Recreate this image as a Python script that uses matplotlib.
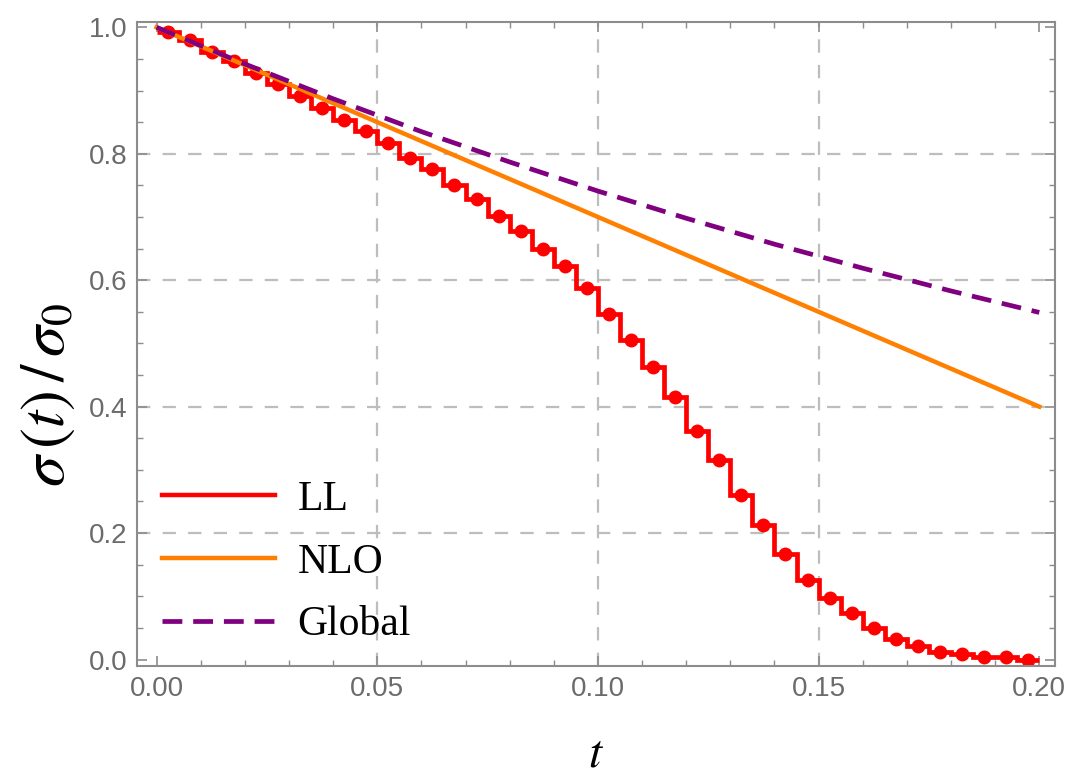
import numpy as np
import matplotlib
matplotlib.use("Agg")
import matplotlib.pyplot as plt
from matplotlib.ticker import MultipleLocator, FormatStrFormatter

# ── data ─────────────────────────────────────────────────────
# LL: histogram in 40 bins of width 0.005 on t = [0, 0.2]
BIN_WIDTH = 0.005
ll_values = [
    0.993, 0.980, 0.961, 0.947, 0.928, 0.910, 0.891, 0.873, 0.854, 0.836,
    0.817, 0.794, 0.776, 0.751, 0.729, 0.702, 0.678, 0.649, 0.622, 0.588,
    0.547, 0.506, 0.463, 0.415, 0.362, 0.316, 0.260, 0.213, 0.167, 0.126,
    0.097, 0.073, 0.050, 0.032, 0.022, 0.012, 0.009, 0.004, 0.004, 0.000,
]

# NLO: straight line
nlo_t = [0.0, 0.05, 0.10, 0.15, 0.20]
nlo_values = [1.0, 0.85, 0.70, 0.55, 0.40]

# Global: dashed, slightly curved
global_t = [0.0, 0.02, 0.04, 0.06, 0.08, 0.10, 0.12, 0.14, 0.16, 0.18, 0.20]
global_values = [1.0, 0.942, 0.887, 0.835, 0.787, 0.741, 0.698, 0.657, 0.619, 0.583, 0.549]

x_ticks = [0.0, 0.05, 0.10, 0.15, 0.20]
y_ticks = [0.0, 0.2, 0.4, 0.6, 0.8, 1.0]

# ── colours / style ──────────────────────────────────────────
RED = "#ff0000"
ORANGE = "#ff8000"
PURPLE = "#800080"
GRID = "#bdbdbd"
FRAME = "#8c8c8c"
TICK_TEXT = "#6b6b6b"

plt.rcParams["font.family"] = ["Liberation Sans Narrow", "Liberation Sans", "DejaVu Sans"]
plt.rcParams["mathtext.fontset"] = "stix"

fig = plt.figure(figsize=(10.8, 7.79), dpi=100)
ax = fig.add_axes([0.127, 0.145, 0.850, 0.827])

n_bins = len(ll_values)
edges = np.arange(n_bins + 1) * BIN_WIDTH
centres = edges[:-1] + BIN_WIDTH / 2

# grid only on interior major ticks (dashed gray)
for xv in x_ticks[1:-1]:
    ax.axvline(xv, color=GRID, lw=1.6, dashes=(6, 5.5), zorder=0)
for yv in y_ticks[1:-1]:
    ax.axhline(yv, color=GRID, lw=1.6, dashes=(6, 5.5), zorder=0)

ax.stairs(ll_values, edges, baseline=None, color=RED, lw=3.4, zorder=2)
ax.plot(centres, ll_values, "o", color=RED, ms=9, zorder=2)
ax.plot([], [], color=RED, lw=3.2, label="LL")
ax.plot(nlo_t, nlo_values, color=ORANGE, lw=3.2, label="NLO", zorder=3)
ax.plot(global_t, global_values, color=PURPLE, lw=3.4, dashes=(4.2, 2.3),
        label="Global", zorder=4)

ax.set_xlim(-0.0044, 0.2036)
ax.set_ylim(-0.0103, 1.0087)

ax.xaxis.set_major_locator(MultipleLocator(0.05))
ax.xaxis.set_minor_locator(MultipleLocator(0.01))
ax.yaxis.set_major_locator(MultipleLocator(0.2))
ax.yaxis.set_minor_locator(MultipleLocator(0.05))
ax.xaxis.set_major_formatter(FormatStrFormatter("%.2f"))
ax.yaxis.set_major_formatter(FormatStrFormatter("%.1f"))

ax.tick_params(which="both", direction="in", top=True, right=True,
               color=FRAME, labelcolor=TICK_TEXT, labelsize=20)
ax.tick_params(which="major", length=7, width=1.2, pad=7)
ax.tick_params(which="minor", length=4, width=1.0)
for sp in ax.spines.values():
    sp.set_color(FRAME)
    sp.set_linewidth(1.5)

ax.set_xlabel(r"$t$", fontsize=34, labelpad=22)
ax.set_ylabel(r"$\sigma\,(t)\,/\,\sigma_0$", fontsize=45)
ax.yaxis.set_label_coords(-0.066, 0.42)

leg = ax.legend(loc="lower left", frameon=False, handlelength=2.7,
                handletextpad=0.55, labelspacing=0.58, borderaxespad=0.2,
                bbox_to_anchor=(0.0, -0.005),
                prop={"family": "Liberation Serif", "size": 30})

fig.savefig("out.png", dpi=100)
